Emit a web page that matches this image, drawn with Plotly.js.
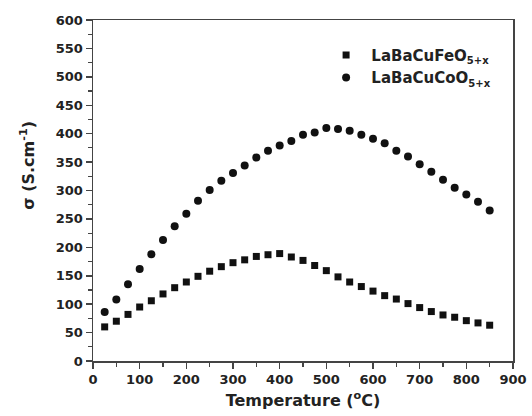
<!DOCTYPE html>
<html>
<head>
<meta charset="utf-8">
<script src="https://cdn.plot.ly/plotly-3.0.1.min.js"></script>
<style>html,body{margin:0;padding:0;background:#fff;}#chart{width:532px;height:416px;}</style>
</head>
<body>
<div id="chart"></div>
<script>
var temperature = [25,50,75,100,125,150,175,200,225,250,275,300,325,350,375,400,425,450,475,500,525,550,575,600,625,650,675,700,725,750,775,800,825,850];
var sigmaFe = [60,70,82,95,106,118,129,139,149,158,166,173,178,184,187,189,183,177,168,159,148,139,131,123,115,109,101,94,87,81,77,71,67,63];
var sigmaCo = [86,108,135,162,188,213,237,259,282,301,317,331,344,358,370,379,387,398,402,410,408,405,398,391,383,370,360,346,333,319,305,293,280,265];
var nameFe = ' LaBaCuFeO<sub><span style="font-size:10px">5+x</span></sub>';
var nameCo = ' LaBaCuCoO<sub><span style="font-size:10px">5+x</span></sub>';
var xTitle = 'Temperature (<sup>o</sup>C)';
var yTitle = 'σ (S.cm<sup>-1</sup>)';

var fontFam = '"DejaVu Sans", "Liberation Sans", Arial, sans-serif';
var traces = [
  {x: temperature, y: sigmaFe, name: nameFe, mode: 'markers', type: 'scatter',
   marker: {symbol: 'square', size: 7, color: '#111'}},
  {x: temperature, y: sigmaCo, name: nameCo, mode: 'markers', type: 'scatter',
   marker: {symbol: 'circle', size: 8, color: '#111'}}
];
var axisCommon = {
  showgrid: false, zeroline: false, showline: true, linecolor: '#444', linewidth: 1.5,
  mirror: true, ticks: 'outside', ticklen: 6, tickwidth: 1.5, tickcolor: '#444',
  tickfont: {family: fontFam, size: 13, color: '#222', weight: 'bold'}
};
var layout = {
  width: 532, height: 416,
  margin: {l: 93, r: 19, t: 20, b: 55},
  paper_bgcolor: '#fff', plot_bgcolor: '#fff',
  showlegend: true,
  legend: {x: 0.555, y: 0.945, xanchor: 'left', yanchor: 'top', bgcolor: 'rgba(0,0,0,0)',
           font: {family: fontFam, size: 15, color: '#222', weight: 'bold'}},
  xaxis: Object.assign({}, axisCommon, {
    range: [0, 900], dtick: 100, tick0: 0,
    minor: {dtick: 50, ticklen: 4, tickwidth: 1.2, tickcolor: '#444', ticks: 'outside'},
    title: {text: xTitle, standoff: 8,
            font: {family: fontFam, size: 16, color: '#222', weight: 'bold'}}
  }),
  yaxis: Object.assign({}, axisCommon, {
    range: [0, 600], dtick: 50, tick0: 0,
    minor: {dtick: 25, ticklen: 4, tickwidth: 1.2, tickcolor: '#444', ticks: 'outside'}
  }),
  annotations: [{
    text: yTitle, textangle: -90, xref: 'paper', yref: 'paper',
    x: -0.155, y: 0.575, xanchor: 'center', yanchor: 'middle', showarrow: false,
    font: {family: fontFam, size: 16, color: '#222', weight: 'bold'}
  }]
};
Plotly.newPlot('chart', traces, layout, {displayModeBar: false, staticPlot: true});
</script>
</body>
</html>
